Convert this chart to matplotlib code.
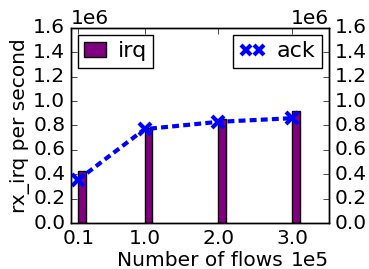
import numpy as np
import matplotlib
matplotlib.use("Agg")
import matplotlib.pyplot as plt
from matplotlib.lines import Line2D
from matplotlib.ticker import FuncFormatter

plt.style.use('classic')
plt.rcParams['font.size'] = 14.5
plt.rcParams['lines.scale_dashes'] = False

flows = [10000, 100000, 200000, 300000]
irq = [423000, 780000, 853000, 920000]
ack = [355000, 770000, 830000, 860000]

fig = plt.figure(figsize=(3.69, 2.69), dpi=100, facecolor='white')
ax = fig.add_axes([0.192, 0.171, 0.7, 0.725])

ax.bar(flows, irq, width=10000, align='edge', color='purple', label='irq')
ax.set_xlim(0, 350000)
ax.set_ylim(0, 1600000)
ax.set_xticks(flows)
ax.tick_params(axis='x', pad=4)
ax.xaxis.set_major_formatter(FuncFormatter(lambda v, p: '%.1f' % (v / 1e5)))
ax.ticklabel_format(axis='y', style='sci', scilimits=(0, 0))
ax.set_xlabel('Number of flows', va='baseline')
ax.xaxis.set_label_coords(0.5, -0.222)
ax.text(1.0, -0.222, '1e5', transform=ax.transAxes, ha='right', va='baseline')
ax.set_ylabel('rx_irq per second', labelpad=2)
ax.legend(loc='upper left', fontsize=16, handlelength=1.0, borderpad=0.3,
          handletextpad=0.5, borderaxespad=0.3)

ax2 = ax.twinx()
ax2.plot(flows, ack, 'b--x', lw=3, mew=3, ms=9, dashes=(5, 3), label='ack')
ax2.set_xlim(0, 350000)
ax2.set_ylim(0, 1600000)
ax2.ticklabel_format(axis='y', style='sci', scilimits=(0, 0))
ack_handle = Line2D([], [], color='b', marker='x', ls='none', mew=3, ms=7)
ax2.legend([ack_handle], ['ack'], loc='upper right', fontsize=16,
           handlelength=1.2, borderpad=0.3, handletextpad=0.5,
           borderaxespad=0.3, numpoints=2)

plt.savefig('out.png', dpi=100, facecolor='white')
